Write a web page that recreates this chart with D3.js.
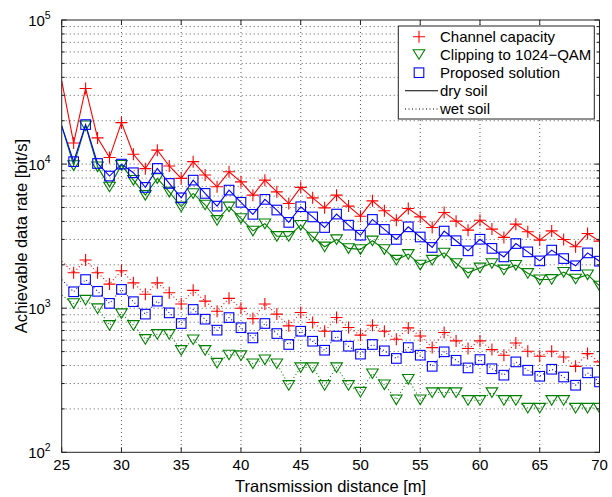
<!DOCTYPE html>
<html>
<head>
<meta charset="utf-8">
<script src="https://cdn.jsdelivr.net/npm/d3@7"></script>
<style>
  html, body { margin: 0; padding: 0; background: #fff; }
  svg { display: block; }
  text { font-family: "Liberation Sans", Arial, Helvetica, sans-serif; fill: #000; }
</style>
</head>
<body>
<svg id="chart" width="612" height="497"></svg>
<script>
// ---------- data ----------
const distances = [25,26,27,28,29,30,31,32,33,34,35,36,37,38,39,40,41,42,43,44,45,46,47,48,49,50,51,52,53,54,55,56,57,58,59,60,61,62,63,64,65,66,67,68,69,70];

const dryCapacity = [38000,14000,33500,15200,11100,19400,11700,9300,12500,9700,7960,10400,8400,6960,8840,7530,6090,7740,6420,5330,6890,5830,4970,6090,5110,4350,5560,4740,4080,4920,4300,3630,4620,4020,3480,4080,3540,3100,3830,3390,2970,3440,3000,2670,3300,2920];
const dryClipping = [18400,9800,18500,9600,6960,9840,7740,6090,7960,6420,5060,6260,5220,4080,5060,4200,3440,3860,3160,3160,3770,3130,2670,3000,2600,2560,2940,2560,2160,2370,2000,2160,2420,2050,1760,1910,2050,1850,1990,1750,1580,1590,1780,1600,1710,1430];
const dryProposed = [18400,10400,18800,10100,8260,10000,8710,6890,9330,7340,5830,7740,6260,5110,6600,5430,4480,5690,4800,3940,5060,4300,3630,4500,3770,3210,4130,3520,3000,3670,3120,2640,3430,2940,2500,3010,2600,2270,2810,2460,2130,2530,2210,1970,2420,2120];

const wetCapacity = [2120,1760,2160,1760,1470,1820,1500,1250,1500,1280,1070,1330,1120,953,1170,1000,847,1070,910,754,933,796,692,861,735,650,762,692,609,730,642,533,678,593,525,593,516,472,574,503,464,503,459,395,484,424];
const wetClipping = [1230,1080,1140,995,762,919,762,609,660,660,511,606,511,417,475,470,413,440,413,292,388,388,292,388,292,262,352,295,232,322,232,260,260,260,230,230,260,230,230,203,203,230,230,203,203,203];
const wetProposed = [1580,1300,1580,1310,1080,1350,1110,910,1120,928,783,980,839,704,861,732,622,783,667,560,692,590,511,640,545,480,560,506,448,533,472,395,498,435,385,440,380,343,424,371,337,377,333,292,356,308];

const xTicks = [25,30,35,40,45,50,55,60,65,70];
const yDecades = [100,1000,10000,100000];
const yExponents = ["2","3","4","5"];

const legendLabels = ["Channel capacity","Clipping to 1024\u2212QAM","Proposed solution","dry soil","wet soil"];
const xLabel = "Transmission distance [m]";
const yLabel = "Achievable data rate [bit/s]";

// ---------- layout ----------
const svg = d3.select("#chart");
const L = 61.7, R = 599.5, T = 20, B = 452.3;
const x = d3.scaleLinear().domain([25,70]).range([L,R]);
const y = d3.scaleLog().domain([100,100000]).range([B,T]);

svg.append("rect").attr("width",612).attr("height",497).attr("fill","#fff");

svg.append("defs").append("clipPath").attr("id","plotclip")
  .append("rect").attr("x",L).attr("y",T).attr("width",R-L).attr("height",B-T);

// ---------- grid ----------
const grid = svg.append("g").attr("stroke","#333").attr("stroke-width",0.8)
  .attr("stroke-dasharray","1,3").attr("fill","none");
xTicks.filter(v => v > 25 && v < 70).forEach(v => {
  grid.append("line").attr("x1",x(v)).attr("x2",x(v)).attr("y1",T).attr("y2",B);
});
const minorVals = [];
yDecades.slice(0,3).forEach(d => { for (let k=1;k<=9;k++) { const v=d*k; if (v>100 && v<100000) minorVals.push(v); } });
minorVals.forEach(v => {
  grid.append("line").attr("x1",L).attr("x2",R).attr("y1",y(v)).attr("y2",y(v));
});

// ---------- series ----------
const series = [
  {vals: dryCapacity, color:"#ff0000", marker:"plus", dash:null},
  {vals: dryClipping, color:"#008000", marker:"tri", dash:null},
  {vals: dryProposed, color:"#0000ff", marker:"square", dash:null},
  {vals: wetCapacity, color:"#ff0000", marker:"plus", dash:"1,2.5"},
  {vals: wetClipping, color:"#008000", marker:"tri", dash:"1,2.5"},
  {vals: wetProposed, color:"#0000ff", marker:"square", dash:"1,2.5"}
];

const plot = svg.append("g").attr("clip-path","url(#plotclip)");
const line = d3.line().x((d,i)=>x(distances[i])).y(d=>y(d));

function drawMarker(g, type, cx, cy, color) {
  if (type === "plus") {
    g.append("path").attr("d",`M${cx-6},${cy}H${cx+6}M${cx},${cy-6}V${cy+6}`)
      .attr("stroke",color).attr("stroke-width",1.1).attr("fill","none");
  } else if (type === "tri") {
    g.append("path").attr("d",`M${cx-5.8},${cy-4.6}L${cx+5.8},${cy-4.6}L${cx},${cy+5}Z`)
      .attr("stroke",color).attr("stroke-width",1.1).attr("fill","none");
  } else {
    g.append("rect").attr("x",cx-4.8).attr("y",cy-4.8).attr("width",9.6).attr("height",9.6)
      .attr("stroke",color).attr("stroke-width",1.1).attr("fill","none");
  }
}

series.forEach(s => {
  const p = plot.append("path").datum(s.vals).attr("d",line)
    .attr("fill","none").attr("stroke",s.color).attr("stroke-width",1.1);
  if (s.dash) p.attr("stroke-dasharray",s.dash);
  const mg = plot.append("g");
  s.vals.forEach((v,i) => {
    if (distances[i] > 25) drawMarker(mg, s.marker, x(distances[i]), y(v), s.color);
  });
});

// ---------- axes box & ticks ----------
const ax = svg.append("g").attr("stroke","#222").attr("stroke-width",1).attr("fill","none");
ax.append("rect").attr("x",L).attr("y",T).attr("width",R-L).attr("height",B-T);
xTicks.forEach(v => {
  ax.append("line").attr("x1",x(v)).attr("x2",x(v)).attr("y1",B).attr("y2",B-5);
  ax.append("line").attr("x1",x(v)).attr("x2",x(v)).attr("y1",T).attr("y2",T+5);
});
yDecades.forEach(v => {
  ax.append("line").attr("x1",L).attr("x2",L+5).attr("y1",y(v)).attr("y2",y(v));
  ax.append("line").attr("x1",R).attr("x2",R-5).attr("y1",y(v)).attr("y2",y(v));
});
minorVals.filter(v => !yDecades.includes(v)).forEach(v => {
  ax.append("line").attr("x1",L).attr("x2",L+3).attr("y1",y(v)).attr("y2",y(v));
  ax.append("line").attr("x1",R).attr("x2",R-3).attr("y1",y(v)).attr("y2",y(v));
});

// tick labels
const xAxisG = svg.append("g");
xTicks.forEach(v => {
  xAxisG.append("text").attr("x",x(v)).attr("y",B+17.5).attr("text-anchor","middle")
    .attr("font-size",15).text(v);
});
const yAxisG = svg.append("g");
yDecades.forEach((v,i) => {
  const t = yAxisG.append("text").attr("x",L-11).attr("y",y(v)+5.5).attr("text-anchor","end")
    .attr("font-size",15);
  t.append("tspan").text("10");
  t.append("tspan").attr("dy",-7).attr("font-size",10.5).text(yExponents[i]);
});

// axis labels
svg.append("text").attr("x",(L+R)/2).attr("y",491.5).attr("text-anchor","middle")
  .attr("font-size",16.5).text(xLabel);
svg.append("text").attr("transform",`translate(26.5,${(T+B)/2}) rotate(-90)`)
  .attr("text-anchor","middle").attr("font-size",16.5).text(yLabel);

// ---------- legend ----------
const lg = svg.append("g");
lg.append("rect").attr("x",398.3).attr("y",26).attr("width",196).attr("height",93)
  .attr("fill","#fff").attr("stroke","#222").attr("stroke-width",1);
const rowY = [36.7,54.3,72.7,90.7,109];
const legendMarkers = [["plus","#ff0000"],["tri","#008000"],["square","#0000ff"]];
legendMarkers.forEach((m,i) => drawMarker(lg, m[0], 419, rowY[i], m[1]));
lg.append("line").attr("x1",405).attr("x2",438).attr("y1",rowY[3]).attr("y2",rowY[3])
  .attr("stroke","#000").attr("stroke-width",1.1);
lg.append("line").attr("x1",405).attr("x2",438).attr("y1",rowY[4]).attr("y2",rowY[4])
  .attr("stroke","#000").attr("stroke-width",1.1).attr("stroke-dasharray","1,2.5");
legendLabels.forEach((t,i) => {
  lg.append("text").attr("x",440).attr("y",rowY[i]+5.3).attr("font-size",15).text(t);
});
</script>
</body>
</html>
